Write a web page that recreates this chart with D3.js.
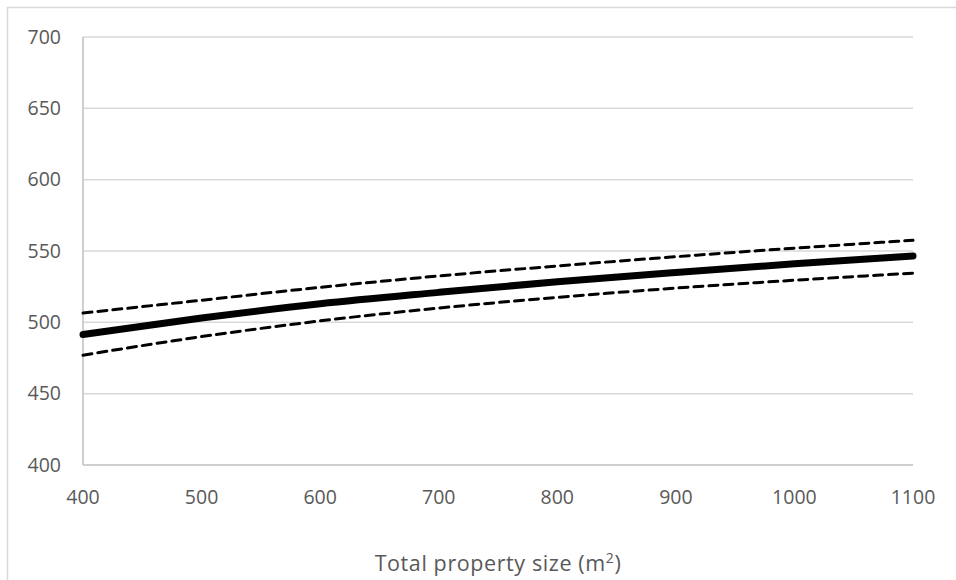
<!DOCTYPE html>
<html><head><meta charset="utf-8">
<script src="https://cdn.jsdelivr.net/npm/d3@7"></script>
<style>body{margin:0;background:#fff}svg{display:block}text{font-family:"Open Sans",sans-serif;fill:#595959}</style>
</head><body>
<svg id="c" width="956" height="580"></svg>
<script>
const sizes = [400, 500, 600, 700, 800, 900, 1000, 1100];
const central = [491.5, 503, 513, 521, 528.5, 535, 541, 546.5];
const upper = [506.5, 515.5, 524.5, 532.5, 539.5, 546, 552, 557.5];
const lower = [477, 490, 501, 510, 517.5, 524, 529.5, 534.5];
const xTicks = [400, 500, 600, 700, 800, 900, 1000, 1100];
const yTicks = [400, 450, 500, 550, 600, 650, 700];

const svg = d3.select("#c");
const x = d3.scaleLinear().domain([400, 1100]).range([83, 913]);
const y = d3.scaleLinear().domain([400, 700]).range([465, 37]);

// outer border
svg.append("path").attr("d", "M7.5,585 V7.5 H960").attr("fill", "none").attr("stroke", "#d9d9d9").attr("stroke-width", 1.5);

// gridlines
svg.append("g").selectAll("line").data(yTicks.filter(d => d > 400)).join("line")
  .attr("x1", x(400)).attr("x2", x(1100)).attr("y1", d => y(d)).attr("y2", d => y(d))
  .attr("stroke", "#d9d9d9").attr("stroke-width", 1.5);

// axes lines
svg.append("line").attr("x1", x(400)).attr("x2", x(400)).attr("y1", y(700)).attr("y2", y(400)).attr("stroke", "#bfbfbf").attr("stroke-width", 1.5);
svg.append("line").attr("x1", x(400)).attr("x2", x(1100)).attr("y1", y(400)).attr("y2", y(400)).attr("stroke", "#bfbfbf").attr("stroke-width", 1.5);

// tick labels
svg.append("g").selectAll("text").data(yTicks).join("text")
  .attr("x", 61).attr("y", d => y(d)).attr("dy", "0.35em").attr("text-anchor", "end")
  .attr("font-size", 19.5).text(d => d);
svg.append("g").selectAll("text").data(xTicks).join("text")
  .attr("x", d => x(d)).attr("y", 497).attr("dy", "0.35em").attr("text-anchor", "middle")
  .attr("font-size", 19.5).text(d => d);

// axis title
const t = svg.append("text").attr("x", 498).attr("y", 563).attr("dy", "0.35em").attr("text-anchor", "middle").attr("font-size", 21.5).attr("letter-spacing", 0.6);
t.append("tspan").text("Total property size (m");
t.append("tspan").attr("font-size", 14).attr("dy", "-0.55em").text("2");
t.append("tspan").attr("dy", "0.38em").text(")");

const line = d3.line().x((d, i) => x(sizes[i])).y(d => y(d)).curve(d3.curveMonotoneX);

svg.append("path").attr("d", line(upper)).attr("fill", "none").attr("stroke", "#000").attr("stroke-width", 3).attr("stroke-dasharray", "9,6").attr("stroke-linecap", "round");
svg.append("path").attr("d", line(lower)).attr("fill", "none").attr("stroke", "#000").attr("stroke-width", 3).attr("stroke-dasharray", "9,6").attr("stroke-linecap", "round");
svg.append("path").attr("d", line(central)).attr("fill", "none").attr("stroke", "#000").attr("stroke-width", 7).attr("stroke-linecap", "round");
</script>
</body></html>
